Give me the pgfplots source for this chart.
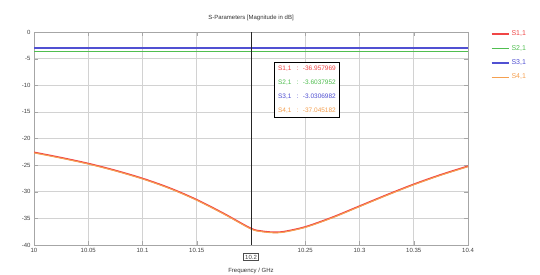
\documentclass[border=0pt]{standalone}
\usepackage{pgfplots}
\pgfplotsset{compat=1.18}
\usepackage{fontspec}
\setmainfont{Liberation Sans}
\definecolor{cS11}{RGB}{240,70,70}
\definecolor{cS21}{RGB}{80,190,80}
\definecolor{cS31}{RGB}{80,80,210}
\definecolor{cS41}{RGB}{245,160,80}
\begin{document}
\begin{tikzpicture}[x=1pt,y=1pt]
\useasboundingbox (-34,-30) rectangle (506,245);
\begin{axis}[
  at={(0,0)}, anchor=south west,
  scale only axis, width=434pt, height=213pt,
  xmin=10, xmax=10.4, ymin=-40, ymax=0,
  xtick={10,10.05,10.1,10.15,10.2,10.25,10.3,10.35,10.4},
  xticklabels={10,10.05,10.1,10.15,,10.25,10.3,10.35,10.4},
  ytick={-40,-35,-30,-25,-20,-15,-10,-5,0},
  grid=major, grid style={gray!35, line width=0.7pt},
  axis line style={gray!70},
  tick style={gray!70},
  tick label style={font=\fontsize{6}{7}\selectfont, text=black!75},
  /pgf/number format/assume math mode=true,
  /pgf/number format/.cd, fixed, precision=2, use comma=false,
  /pgfplots/.cd,
  title={S-Parameters [Magnitude in dB]},
  title style={font=\fontsize{6}{7}\selectfont, text=black!80, yshift=2pt},
  xlabel={Frequency / GHz},
  xlabel style={font=\fontsize{6}{7}\selectfont, text=black!80,
    at={(rel axis cs:0.5,0)}, anchor=center, yshift=-26pt},
  legend style={at={(rel axis cs:1.05,1.02)}, anchor=north west, draw=none, fill=none,
    font=\fontsize{7}{8}\selectfont, row sep=4pt, inner sep=1pt},
  legend cell align=left,
  clip=true,
]
\addplot[cS11, line width=1.6pt, smooth] coordinates {
(10.00,-22.6) (10.025,-23.6) (10.05,-24.7) (10.075,-26.0) (10.10,-27.5) (10.125,-29.3)
(10.15,-31.5) (10.175,-34.1) (10.20,-36.9) (10.21,-37.4) (10.22,-37.6) (10.23,-37.5)
(10.25,-36.6) (10.275,-34.8) (10.30,-32.7) (10.325,-30.6) (10.35,-28.6) (10.375,-26.8) (10.40,-25.2)
};
\addlegendentry{\textcolor{cS11}{S1,1}}
\addplot[cS21, line width=0.8pt] coordinates {(10,-3.6) (10.4,-3.6)};
\addlegendentry{\textcolor{cS21}{S2,1}}
\addplot[cS31, line width=1.3pt] coordinates {(10,-3.0) (10.4,-3.0)};
\addlegendentry{\textcolor{cS31}{S3,1}}
\addplot[cS41, line width=1.0pt, smooth] coordinates {
(10.00,-22.7) (10.025,-23.7) (10.05,-24.8) (10.075,-26.1) (10.10,-27.6) (10.125,-29.4)
(10.15,-31.6) (10.175,-34.2) (10.20,-37.0) (10.21,-37.5) (10.22,-37.7) (10.23,-37.6)
(10.25,-36.7) (10.275,-34.9) (10.30,-32.8) (10.325,-30.7) (10.35,-28.7) (10.375,-26.9) (10.40,-25.3)
};
\addlegendentry{\textcolor{cS41}{S4,1}}
\draw[black!85, line width=1pt] (axis cs:10.2,0) -- (axis cs:10.2,-40);
\node[draw=black, fill=white, anchor=north west, inner xsep=4pt, inner ysep=4pt, line width=0.7pt,
      font=\fontsize{6.5}{14}\selectfont, align=left] at (axis cs:10.221,-5.6) {%
\textcolor{cS11}{S1,1 \ \ : \ -36.957969}\\
\textcolor{cS21}{S2,1 \ \ : \ -3.6037952}\\
\textcolor{cS31}{S3,1 \ \ : \ -3.0306982}\\
\textcolor{cS41}{S4,1 \ \ : \ -37.045182}};
\end{axis}
\node[draw=black!70, fill=white, inner sep=1.5pt, font=\fontsize{6}{7}\selectfont, text=black!75]
  at (217,-12) {10.2};
\end{tikzpicture}
\end{document}
